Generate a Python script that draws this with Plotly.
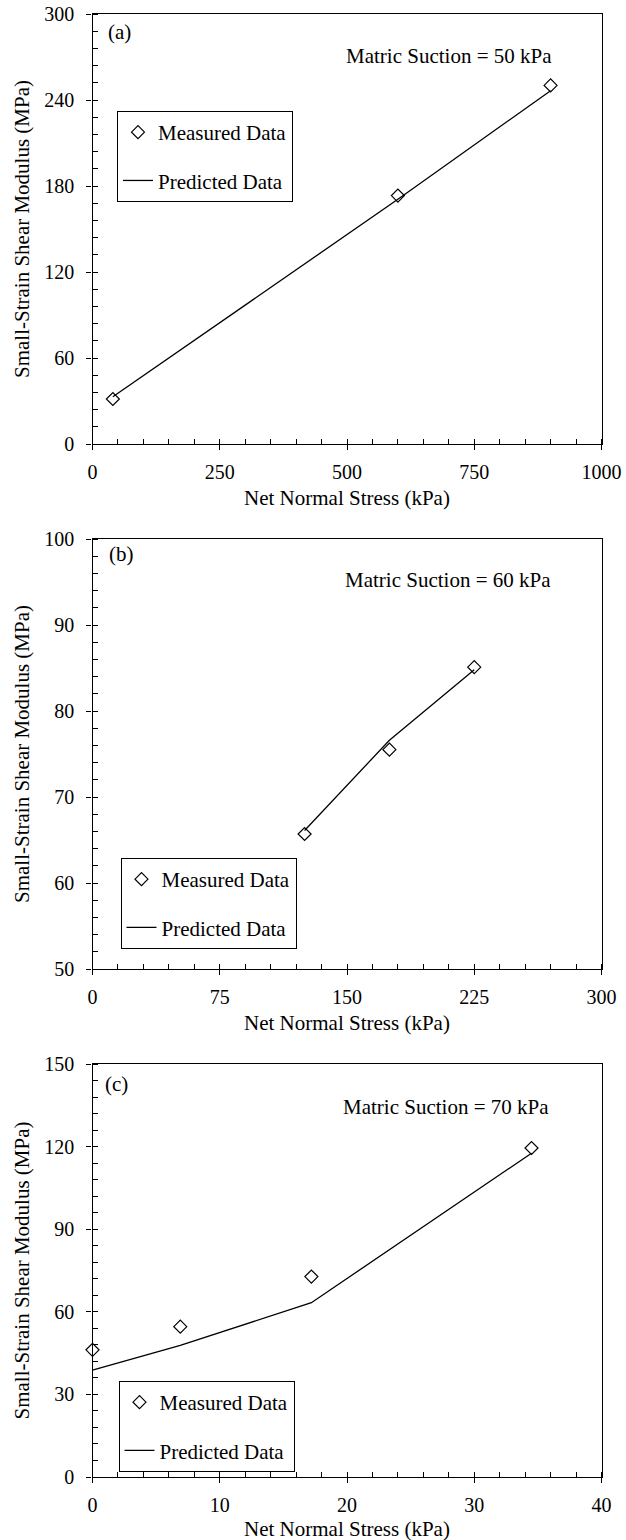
import plotly.graph_objects as go

# ---------------- data ----------------
# Panel (a): matric suction 50 kPa
a_stress = [40, 600, 900]
a_measured = [31.4, 173.3, 250.2]
a_predicted = [33.0, 170.7, 246.5]

# Panel (b): matric suction 60 kPa
b_stress = [125, 175, 225]
b_measured = [65.7, 75.5, 85.1]
b_predicted = [66.1, 76.6, 84.8]

# Panel (c): matric suction 70 kPa
c_stress = [0, 6.9, 17.2, 34.5]
c_measured = [46.2, 54.6, 72.8, 119.5]
c_predicted = [38.8, 47.8, 63.3, 117.6]

panel_labels = ["(a)", "(b)", "(c)"]
suction_labels = ["Matric Suction = 50 kPa", "Matric Suction = 60 kPa", "Matric Suction = 70 kPa"]
x_ranges = [[0, 1000], [0, 300], [0, 40]]
y_ranges = [[0, 300], [50, 100], [0, 150]]
x_dticks = [250, 75, 10]
y_dticks = [60, 10, 30]
x_minor = [50, 15, 2]
y_minor = [12, 2, 6]

x_title = "Net Normal Stress (kPa)"
y_title = "Small-Strain Shear Modulus (MPa)"
measured_name = "Measured Data"
predicted_name = "Predicted Data"

# ---------------- layout geometry ----------------
W, H = 626, 1540
MB = 0
HP = H - MB
FONT = "Liberation Serif"


def py(y_px):
    """pixel row (from top) -> paper fraction"""
    return (HP - y_px) / HP


x_dom = [92.5 / W, 601.5 / W]
y_doms = [[py(444), py(14)], [py(969), py(539)], [py(1477), py(1064)]]
legend_pos = [(117 / W, py(111)), (120.5 / W, py(858)), (118.5 / W, py(1381))]
label_pos = [(0.026, 0.958), (0.028, 0.965), (0.02, 0.952)]
suction_pos = [(0.70, 0.903), (0.698, 0.905), (0.695, 0.896)]
xtitle_shift = [-54, -54, -52]

fig = go.Figure()

data = [
    (a_stress, a_measured, a_predicted),
    (b_stress, b_measured, b_predicted),
    (c_stress, c_measured, c_predicted),
]

layout = dict(
    template="none",
    width=W, height=H,
    margin=dict(l=0, r=0, t=0, b=MB),
    paper_bgcolor="white", plot_bgcolor="white",
    font=dict(family=FONT, size=21, color="black"),
    showlegend=True,
    annotations=[],
)

for i, (xs, ym, yp) in enumerate(data):
    n = i + 1
    xa = "x" if n == 1 else f"x{n}"
    ya = "y" if n == 1 else f"y{n}"
    leg = "legend" if n == 1 else f"legend{n}"
    # overlay axes for the inside half of the major ticks
    on = n + 3
    xo, yo = f"x{on}", f"y{on}"

    fig.add_trace(go.Scatter(
        x=xs, y=ym, mode="markers", name=measured_name,
        marker=dict(symbol="diamond-open", size=10, color="black", line=dict(width=1.2, color="black")),
        xaxis=xa, yaxis=ya, legend=leg, legendgroup=f"m{n}", cliponaxis=False,
    ))
    fig.add_trace(go.Scatter(
        x=xs, y=yp, mode="lines", name=predicted_name,
        line=dict(color="black", width=1.3),
        xaxis=xa, yaxis=ya, legend=leg, legendgroup=f"p{n}",
    ))
    fig.add_trace(go.Scatter(x=[], y=[], xaxis=xo, yaxis=yo, showlegend=False, hoverinfo="skip"))

    xkey = "xaxis" if n == 1 else f"xaxis{n}"
    ykey = "yaxis" if n == 1 else f"yaxis{n}"
    common = dict(
        showgrid=False, zeroline=False, showline=True, linecolor="black", linewidth=1.3,
        mirror=True, ticks="outside", ticklen=5, tickwidth=1.2, tickcolor="black",
        tickfont=dict(family=FONT, size=20, color="black"),
        automargin=False,
    )
    layout[xkey] = dict(
        common, domain=x_dom, anchor=ya, range=x_ranges[i], dtick=x_dticks[i], tick0=0,
        ticklabelstandoff=5,
        minor=dict(ticks="inside", dtick=x_minor[i], tick0=0, ticklen=5, tickwidth=1.2, tickcolor="black", showgrid=False),
    )
    layout[ykey] = dict(
        common, domain=y_doms[i], anchor=xa, range=y_ranges[i], dtick=y_dticks[i], tick0=0,
        ticklabelstandoff=8,
        minor=dict(ticks="inside", dtick=y_minor[i], tick0=0, ticklen=5, tickwidth=1.2, tickcolor="black", showgrid=False),
        title=dict(text=y_title, font=dict(family=FONT, size=21, color="black"), standoff=8),
    )
    ov = dict(showgrid=False, zeroline=False, showline=False, showticklabels=False,
              ticks="inside", ticklen=5, tickwidth=1.2, tickcolor="black", automargin=False)
    layout[f"xaxis{on}"] = dict(ov, domain=x_dom, anchor=yo, overlaying=xa, range=x_ranges[i],
                                dtick=x_dticks[i], tick0=0)
    layout[f"yaxis{on}"] = dict(ov, domain=y_doms[i], anchor=xo, overlaying=ya, range=y_ranges[i],
                                dtick=y_dticks[i], tick0=0)

    lx, ly = legend_pos[i]
    layout[leg] = dict(
        x=lx, y=ly, xanchor="left", yanchor="top",
        bgcolor="white", bordercolor="black", borderwidth=1,
        font=dict(family=FONT, size=21, color="black"),
        tracegroupgap=18, itemwidth=30,
    )

    # x-axis title (placed as an annotation below the axis)
    layout["annotations"].append(dict(
        text=x_title, xref=f"{xa} domain", yref=f"{ya} domain",
        x=0.5, y=0, xanchor="center", yanchor="middle", yshift=xtitle_shift[i], showarrow=False,
        font=dict(family=FONT, size=21, color="black"),
    ))
    px_, py_ = label_pos[i]
    layout["annotations"].append(dict(
        text=panel_labels[i], xref=f"{xa} domain", yref=f"{ya} domain",
        x=px_, y=py_, xanchor="left", yanchor="middle", showarrow=False,
        font=dict(family=FONT, size=21, color="black"),
    ))
    sx, sy = suction_pos[i]
    layout["annotations"].append(dict(
        text=suction_labels[i], xref=f"{xa} domain", yref=f"{ya} domain",
        x=sx, y=sy, xanchor="center", yanchor="middle", showarrow=False,
        font=dict(family=FONT, size=21, color="black"),
    ))

fig.update_layout(**layout)
fig.write_html("out.html")
